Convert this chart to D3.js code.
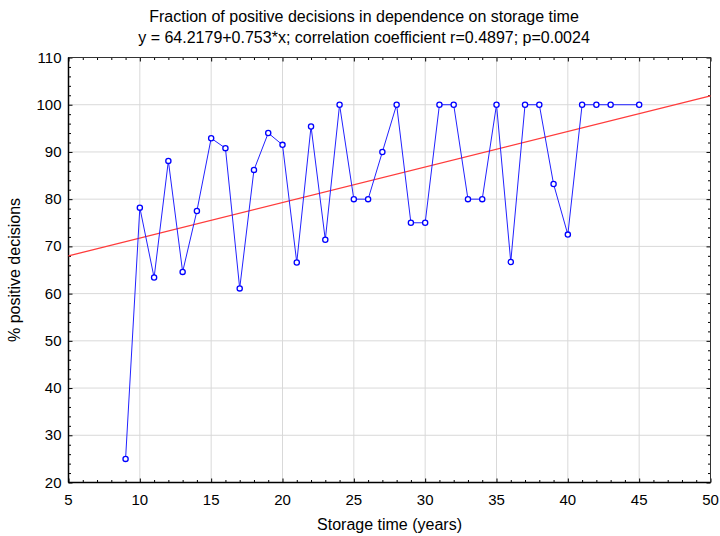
<!DOCTYPE html>
<html>
<head>
<meta charset="utf-8">
<script src="https://cdn.jsdelivr.net/npm/d3@7"></script>
<style>
  body { margin: 0; background: #fff; }
  text { font-family: "Liberation Sans", Arial, sans-serif; fill: #000; }
</style>
</head>
<body>
<div id="chartContainer"></div>
<script>
// storage time (years) and % positive decisions
var years = [9, 10, 11, 12, 13, 14, 15, 16, 17, 18, 19, 20, 21, 22, 23, 24, 25, 26, 27,
             28, 29, 30, 31, 32, 33, 34, 35, 36, 37, 38, 39, 40, 41, 42, 43, 45];
var positive = [25, 78.2, 63.4, 88.1, 64.6, 77.5, 92.9, 90.8, 61.1, 86.2, 94.0, 91.5, 66.6, 95.4, 71.4, 100, 80, 80, 90,
                100, 75, 75, 100, 100, 80, 80, 100, 66.7, 100, 100, 83.2, 72.5, 100, 100, 100, 100];
// regression y = a + b*x
var intercept = 64.2179, slope = 0.753;
var xTicks = [5, 10, 15, 20, 25, 30, 35, 40, 45, 50];
var yTicks = [20, 30, 40, 50, 60, 70, 80, 90, 100, 110];
var titleLines = ["Fraction of positive decisions in dependence on storage time",
                  "y = 64.2179+0.753*x; correlation coefficient r=0.4897; p=0.0024"];

var W = 720, H = 536;
var mLeft = 68.5, mRight = 710.5, mTop = 57.5, mBottom = 482.5;

var svg = d3.select("#chartContainer").append("svg")
  .attr("width", W).attr("height", H);

var x = d3.scaleLinear().domain([5, 50]).range([mLeft, mRight]);
var y = d3.scaleLinear().domain([20, 110]).range([mBottom, mTop]);

// grid
svg.append("g").selectAll("line").data(xTicks.slice(1, -1)).enter().append("line")
  .attr("x1", d => x(d)).attr("x2", d => x(d)).attr("y1", mTop).attr("y2", mBottom)
  .style("stroke", "#d9d9d9");
svg.append("g").selectAll("line").data(yTicks.slice(1, -1)).enter().append("line")
  .attr("y1", d => y(d)).attr("y2", d => y(d)).attr("x1", mLeft).attr("x2", mRight)
  .style("stroke", "#d9d9d9");

// inward ticks on all four sides
var xMinor = d3.range(5, 50, 1).filter(d => d % 5 !== 0);
var yMinor = d3.range(20, 110, 2).filter(d => d % 10 !== 0);
function axes(axisFn, scale, major, minor, tx, ty) {
  var g = svg.append("g").attr("transform", "translate(" + tx + "," + ty + ")");
  g.call(axisFn(scale).tickValues(major).tickSize(-4).tickFormat(""));
  g.append("g").call(axisFn(scale).tickValues(minor).tickSize(-2.5).tickFormat(""));
  g.selectAll(".domain").remove();
  g.selectAll("line").style("stroke", "#000");
}
axes(d3.axisBottom, x, xTicks, xMinor, 0, mBottom);
axes(d3.axisTop, x, xTicks, xMinor, 0, mTop);
axes(d3.axisLeft, y, yTicks, yMinor, mLeft, 0);
axes(d3.axisRight, y, yTicks, yMinor, mRight, 0);

// frame: left and bottom axis lines darker
svg.append("rect").attr("x", mLeft).attr("y", mTop)
  .attr("width", mRight - mLeft).attr("height", mBottom - mTop)
  .style("fill", "none").style("stroke", "#333").style("stroke-width", 1);
svg.append("line").attr("x1", mLeft).attr("x2", mRight).attr("y1", mBottom).attr("y2", mBottom)
  .style("stroke", "#000").style("stroke-width", 1.5);
svg.append("line").attr("x1", mLeft).attr("x2", mLeft).attr("y1", mTop).attr("y2", mBottom)
  .style("stroke", "#000").style("stroke-width", 1.5);

// tick labels
svg.append("g").selectAll("text").data(xTicks).enter().append("text")
  .attr("x", d => x(d)).attr("y", mBottom + 22)
  .attr("text-anchor", "middle").style("font-size", "15px").text(d => d);
svg.append("g").selectAll("text").data(yTicks).enter().append("text")
  .attr("x", mLeft - 7).attr("y", d => y(d) + 5)
  .attr("text-anchor", "end").style("font-size", "15px").text(d => d);

// regression line
svg.append("line")
  .attr("x1", x(5)).attr("y1", y(intercept + slope * 5))
  .attr("x2", x(50)).attr("y2", y(intercept + slope * 50))
  .style("stroke", "#ff3b3b").style("stroke-width", 1.2);

// data line
var pts = years.map((d, i) => [d, positive[i]]);
svg.append("path")
  .attr("d", d3.line().x(d => x(d[0])).y(d => y(d[1]))(pts))
  .style("fill", "none").style("stroke", "#2222ff").style("stroke-width", 1);
svg.append("g").selectAll("circle").data(pts).enter().append("circle")
  .attr("cx", d => x(d[0])).attr("cy", d => y(d[1])).attr("r", 2.6)
  .style("fill", "#fff").style("stroke", "#0000ff").style("stroke-width", 1.3);

// titles
svg.append("g").selectAll("text").data(titleLines).enter().append("text")
  .attr("x", 364).attr("y", (d, i) => 22 + i * 21)
  .attr("text-anchor", "middle").style("font-size", "16px").text(d => d);

svg.append("text").attr("x", (mLeft + mRight) / 2).attr("y", 530)
  .attr("text-anchor", "middle").style("font-size", "16px").text("Storage time (years)");
svg.append("text")
  .attr("transform", "translate(20," + ((mTop + mBottom) / 2) + ") rotate(-90)")
  .attr("text-anchor", "middle").style("font-size", "16px").text("% positive decisions");
</script>
</body>
</html>
